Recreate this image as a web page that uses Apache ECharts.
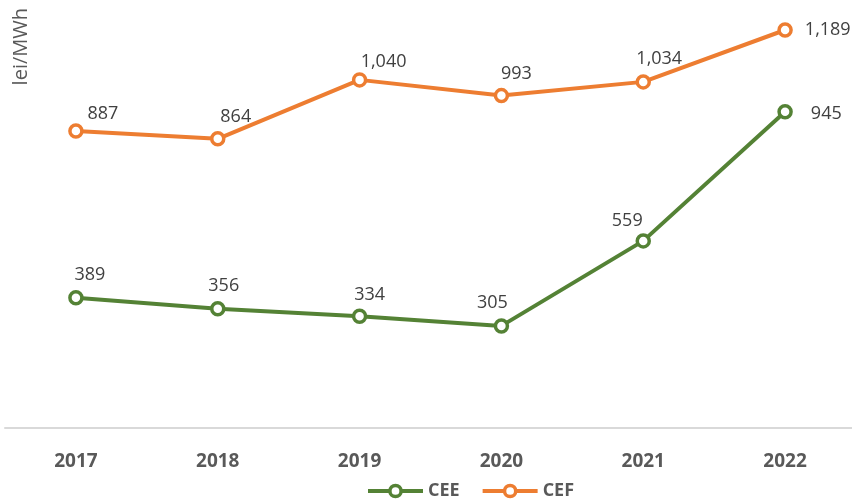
<!DOCTYPE html>
<html><head><meta charset="utf-8">
<script src="https://cdn.jsdelivr.net/npm/echarts@6/dist/echarts.min.js"></script>
<style>html,body{margin:0;padding:0;background:#fff;overflow:hidden}#c{width:862px;height:499px}</style>
</head><body><div id="c"></div>
<script>
const categories = ['2017','2018','2019','2020','2021','2022'];
const cee = [389, 356, 334, 305, 559, 945];
const cef = [887, 864, 1040, 993, 1034, 1189];
const ceeOffsets = [[14,-6],[6,-6],[10,-5],[-9,-6],[-16,-3],[6,2]];
const cefOffsets = [[27,0],[18,-5],[24,-1],[15,-5],[16,-6],[0,0]];

const fmt = v => v.toLocaleString('en-US');
function mk(vals, offs){
  return vals.map((v,i)=>{
    const o = {value:v, label:{offset:offs[i]}};
    if(i===vals.length-1){ o.label = {position:'right', distance:12, offset:offs[i]}; }
    return o;
  });
}
const chart = echarts.init(document.getElementById('c'));
const lbl = {show:true, position:'top', distance:0, fontSize:18, color:'#404040', fontFamily:'Open Sans', formatter:p=>fmt(p.value)};
chart.setOption({
  animation:false,
  grid:{left:5, right:6, top:30, bottom:71, containLabel:false},
  xAxis:{type:'category', data:categories, boundaryGap:true,
    axisLine:{lineStyle:{color:'#d9d9d9', width:2}}, axisTick:{show:false},
    axisLabel:{fontSize:19, fontWeight:'bold', color:'#595959', margin:24, fontFamily:'Open Sans'}},
  yAxis:{type:'value', min:0, max:1189, show:false},
  legend:{top:477, left:361, itemWidth:55, itemHeight:14, itemGap:21,
    textStyle:{fontSize:18, fontWeight:'bold', color:'#595959', fontFamily:'Open Sans'},
    data:[{name:'CEE', lineStyle:{width:4}, itemStyle:{borderWidth:3.5}},
          {name:'CEF', lineStyle:{width:4}, itemStyle:{borderWidth:3.5}}]},
  graphic:[{type:'text', left:11, top:8, rotation:Math.PI/2,
    style:{text:'lei/MWh', fontSize:20, fill:'#595959', fontFamily:'Open Sans'}}],
  series:[
    {name:'CEE', type:'line', data:mk(cee, ceeOffsets), symbol:'circle', symbolSize:12,
     lineStyle:{color:'#548235', width:4}, itemStyle:{color:'#fff', borderColor:'#548235', borderWidth:3.5},
     label:lbl},
    {name:'CEF', type:'line', data:mk(cef, cefOffsets), symbol:'circle', symbolSize:12,
     lineStyle:{color:'#ED7D31', width:4}, itemStyle:{color:'#fff', borderColor:'#ED7D31', borderWidth:3.5},
     label:lbl}
  ]
});
</script></body></html>
